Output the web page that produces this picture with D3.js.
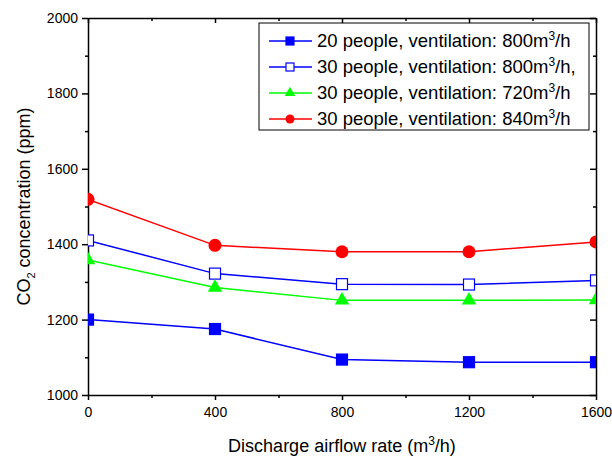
<!DOCTYPE html>
<html lang="en">
<head>
    <meta charset="UTF-8">
    <title>CO2 concentration vs discharge airflow</title>
    <style>
        body { margin: 0; background: #fff; }
        text { font-family: "Liberation Sans", Arial, sans-serif; fill: #000; }
        .axis path, .axis line { stroke: #000; stroke-width: 1.5px; }
    </style>
    <script src="https://d3js.org/d3.v7.min.js"></script>
</head>
<body>
    <svg width="612" height="459"></svg>
    <script>
        // Data
        const airflow = [0, 400, 800, 1200, 1600];
        const p20v800 = [1200, 1175, 1094, 1087, 1087];
        const p30v800 = [1410, 1322, 1294, 1293, 1304];
        const p30v720 = [1358, 1285, 1251, 1251, 1252];
        const p30v840 = [1519, 1397, 1380, 1380, 1406];

        const series = [
            { name: "20 people, ventilation: 800", tail: "/h", values: p20v800, color: "#0000ff", shape: "square", filled: true },
            { name: "30 people, ventilation: 800", tail: "/h,", values: p30v800, color: "#0000ff", shape: "square", filled: false },
            { name: "30 people, ventilation: 720", tail: "/h", values: p30v720, color: "#00ff00", shape: "triangle", filled: true },
            { name: "30 people, ventilation: 840", tail: "/h", values: p30v840, color: "#ff0000", shape: "circle", filled: true }
        ];

        const width = 612, height = 459;
        const margin = { top: 18, right: 16, bottom: 64, left: 88 };
        const iw = width - margin.left - margin.right;
        const ih = height - margin.top - margin.bottom;

        const svg = d3.select("svg");
        const g = svg.append("g").attr("transform", `translate(${margin.left},${margin.top})`);

        const x = d3.scaleLinear().domain([0, 1600]).range([0, iw]);
        const y = d3.scaleLinear().domain([1000, 2000]).range([ih, 0]);

        // minor ticks
        const xMinor = d3.range(200, 1600, 400);
        const yMinor = d3.range(1100, 2000, 200);
        const fmt = d3.format("d");

        // bottom axis
        g.append("g").attr("class", "axis").attr("transform", `translate(0,${ih})`)
            .call(d3.axisBottom(x).tickValues(airflow).tickFormat(fmt).tickSize(5).tickPadding(7).tickSizeOuter(0))
            .call(a => a.selectAll("text").attr("font-size", 14));
        g.append("g").attr("class", "axis").attr("transform", `translate(0,${ih})`)
            .call(d3.axisBottom(x).tickValues(xMinor).tickSize(3).tickFormat("").tickSizeOuter(0))
            .call(a => a.select(".domain").remove());

        // left axis
        g.append("g").attr("class", "axis")
            .call(d3.axisLeft(y).tickValues(d3.range(1000, 2001, 200)).tickFormat(fmt).tickSize(6).tickPadding(4).tickSizeOuter(0))
            .call(a => a.selectAll("text").attr("font-size", 14));
        g.append("g").attr("class", "axis")
            .call(d3.axisLeft(y).tickValues(yMinor).tickSize(3).tickFormat("").tickSizeOuter(0))
            .call(a => a.select(".domain").remove());

        // top axis (ticks inward)
        g.append("g").attr("class", "axis")
            .call(d3.axisTop(x).tickValues(airflow).tickSize(-5).tickFormat("").tickSizeOuter(0));
        g.append("g").attr("class", "axis")
            .call(d3.axisTop(x).tickValues(xMinor).tickSize(-3).tickFormat("").tickSizeOuter(0))
            .call(a => a.select(".domain").remove());

        // right axis (ticks inward)
        g.append("g").attr("class", "axis").attr("transform", `translate(${iw},0)`)
            .call(d3.axisRight(y).tickValues(d3.range(1000, 2001, 200)).tickSize(-6).tickFormat("").tickSizeOuter(0));
        g.append("g").attr("class", "axis").attr("transform", `translate(${iw},0)`)
            .call(d3.axisRight(y).tickValues(yMinor).tickSize(-3).tickFormat("").tickSizeOuter(0))
            .call(a => a.select(".domain").remove());

        // clip so markers at edges get cut like the original
        svg.append("defs").append("clipPath").attr("id", "plot")
            .append("rect").attr("width", iw).attr("height", ih);
        const plot = g.append("g").attr("clip-path", "url(#plot)");

        const line = d3.line().x((d, i) => x(airflow[i])).y(d => y(d));

        function drawMarker(sel, s, size) {
            if (s.shape === "square") {
                sel.append("rect")
                    .attr("x", -size / 2).attr("y", -size / 2)
                    .attr("width", size).attr("height", size)
                    .attr("fill", s.filled ? s.color : "#fff")
                    .attr("stroke", s.color).attr("stroke-width", 1.2);
            } else if (s.shape === "triangle") {
                sel.append("path")
                    .attr("d", d3.symbol(d3.symbolTriangle, size * size * 0.75)())
                    .attr("fill", s.color);
            } else {
                sel.append("circle").attr("r", size / 2 + 1).attr("fill", s.color);
            }
        }

        series.forEach(s => {
            plot.append("path").datum(s.values)
                .attr("fill", "none").attr("stroke", s.color).attr("stroke-width", 1.5)
                .attr("d", line);
            s.values.forEach((v, i) => {
                const m = plot.append("g").attr("transform", `translate(${x(airflow[i])},${y(v)})`);
                drawMarker(m, s, 11);
            });
        });

        // axis titles
        const xt = svg.append("text")
            .attr("x", 342).attr("y", 452)
            .attr("text-anchor", "middle").attr("font-size", 18);
        xt.append("tspan").text("Discharge airflow rate (m");
        xt.append("tspan").attr("dy", -7).attr("font-size", 12).text("3");
        xt.append("tspan").attr("dy", 7).text("/h)");

        const yt = svg.append("text")
            .attr("transform", `translate(30,${margin.top + ih / 2}) rotate(-90)`)
            .attr("text-anchor", "middle").attr("font-size", 18);
        yt.append("tspan").text("CO");
        yt.append("tspan").attr("dy", 5).attr("font-size", 11).text("2");
        yt.append("tspan").attr("dy", -5).text(" concentration (ppm)");

        // legend
        const lg = svg.append("g").attr("transform", "translate(259,23)");
        lg.append("rect").attr("width", 330).attr("height", 107)
            .attr("fill", "#fff").attr("stroke", "#000").attr("stroke-width", 1);
        series.forEach((s, i) => {
            const row = lg.append("g").attr("transform", `translate(0,${18 + i * 26})`);
            row.append("line").attr("x1", 10).attr("x2", 53)
                .attr("stroke", s.color).attr("stroke-width", 1.5);
            const m = row.append("g").attr("transform", "translate(31,0)");
            if (s.shape === "square") {
                m.append("rect").attr("x", -4).attr("y", -4).attr("width", 8).attr("height", 8)
                    .attr("fill", s.filled ? s.color : "#fff").attr("stroke", s.color).attr("stroke-width", 1.2);
            } else if (s.shape === "triangle") {
                m.append("path").attr("d", d3.symbol(d3.symbolTriangle, 50)()).attr("fill", s.color);
            } else {
                m.append("circle").attr("r", 4.5).attr("fill", s.color);
            }
            const t = row.append("text").attr("x", 58).attr("y", 6).attr("font-size", 18.5);
            t.append("tspan").text(s.name + "m");
            t.append("tspan").attr("dy", -7).attr("font-size", 12).text("3");
            t.append("tspan").attr("dy", 7).text(s.tail);
        });
    </script>
</body>
</html>
